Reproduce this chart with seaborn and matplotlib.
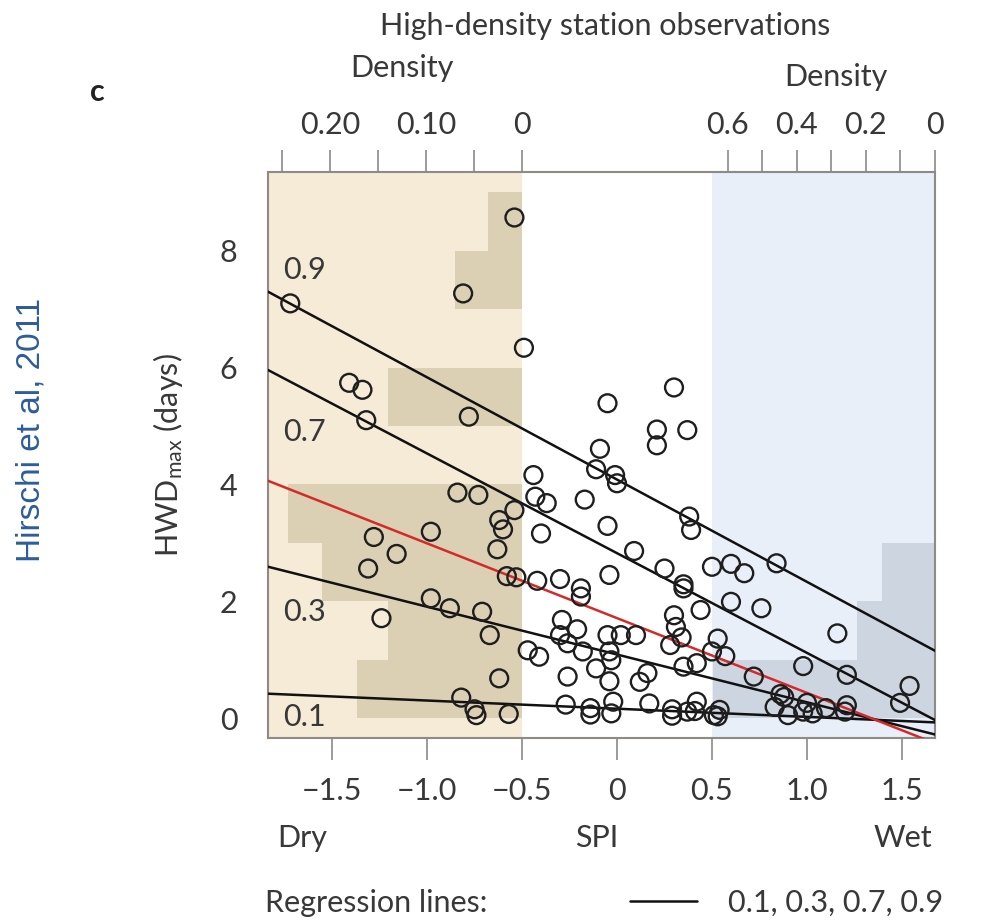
import numpy as np
import matplotlib
matplotlib.use("Agg")
import matplotlib.pyplot as plt
import seaborn as sns

# station observations (SPI, HWDmax in days)
spi = [-0.54, -0.81, -0.49, -1.72, -1.41, -1.34, -1.32, -0.78, -0.84, -0.73,
       -0.54, -0.62, -0.60, -0.98, -1.28, -1.16, -0.63, -1.31, -0.58, -0.53,
       -0.98, -0.88, -0.71, -1.24, -0.67, -0.62, -0.82, -0.75, -0.74, -0.57,
       0.30, -0.05, 0.21, 0.37, 0.21, -0.09, -0.11, -0.01, 0.00, -0.44,
       -0.43, -0.37, -0.17, 0.38, 0.39, -0.40, -0.05, 0.09, -0.42, -0.30,
       -0.04, -0.19, -0.19, 0.25, 0.35, 0.35, 0.50, 0.44, 0.30, 0.31,
       0.34, 0.28, -0.29, -0.21, -0.30, -0.26, -0.18, -0.05, 0.02, 0.10,
       -0.04, -0.03, -0.47, -0.41, -0.26, -0.11, -0.04, 0.16, 0.12, 0.35,
       0.42, 0.53, 0.50, -0.27, -0.14, -0.14, -0.02, -0.03, 0.17, 0.29,
       0.29, 0.37, 0.42, 0.41, 0.51, 0.60, 0.67, 0.84, 0.60, 0.76,
       1.16, 0.57, 0.98, 1.21, 0.72, 1.54, 1.49, 0.86, 0.88, 0.83,
       1.00, 0.98, 1.03, 0.90, 1.10, 1.21, 1.20, 0.54, 0.53]
hwd = [8.57, 7.27, 6.34, 7.10, 5.74, 5.62, 5.10, 5.16, 3.86, 3.82,
       3.56, 3.39, 3.23, 3.19, 3.10, 2.81, 2.89, 2.56, 2.43, 2.41,
       2.05, 1.88, 1.82, 1.71, 1.42, 0.68, 0.35, 0.15, 0.05, 0.07,
       5.66, 5.39, 4.94, 4.93, 4.67, 4.61, 4.26, 4.16, 4.02, 4.16,
       3.79, 3.68, 3.74, 3.45, 3.22, 3.16, 3.29, 2.86, 2.35, 2.38,
       2.45, 2.22, 2.08, 2.56, 2.29, 2.22, 2.59, 1.85, 1.76, 1.56,
       1.38, 1.25, 1.68, 1.52, 1.42, 1.28, 1.14, 1.42, 1.42, 1.42,
       1.14, 0.99, 1.16, 1.05, 0.71, 0.85, 0.63, 0.77, 0.62, 0.88,
       0.94, 1.36, 1.14, 0.23, 0.17, 0.06, 0.28, 0.08, 0.25, 0.15,
       0.04, 0.11, 0.28, 0.12, 0.05, 2.64, 2.48, 2.65, 1.99, 1.88,
       1.45, 1.06, 0.89, 0.74, 0.71, 0.55, 0.26, 0.41, 0.36, 0.19,
       0.26, 0.11, 0.08, 0.05, 0.17, 0.22, 0.11, 0.14, 0.03]

# quantile regression lines
quantiles = ["0.1", "0.3", "0.5", "0.7", "0.9"]
intercepts = [0.160, 1.088, 1.711, 2.823, 4.083]
slopes = [-0.140, -0.818, -1.280, -1.707, -1.751]
line_colors = ["#111111", "#111111", "#d42a2a", "#111111", "#111111"]
label_y = [0.02, 1.82, None, 4.90, 7.67]

# marginal histograms (HWD bins of 1 day)
bin_edges = np.arange(0, 10)
dry_density = [0.172, 0.139, 0.208, 0.243, 0.0, 0.139, 0.0, 0.070, 0.035]
wet_density = [0.642, 0.226, 0.153, 0.0, 0.0, 0.0, 0.0, 0.0, 0.0]
dry_ticks = [0.0, 0.05, 0.10, 0.15, 0.20, 0.25]
dry_labels = ["0", "", "0.10", "", "0.20", ""]
wet_ticks = [0.0, 0.1, 0.2, 0.3, 0.4, 0.5, 0.6]
wet_labels = ["0", "", "0.2", "", "0.4", "", "0.6"]

x_ticks = [-1.5, -1.0, -0.5, 0, 0.5, 1.0, 1.5]
x_labels = ["\u22121.5", "\u22121.0", "\u22120.5", "0", "0.5", "1.0", "1.5"]
y_ticks = [0, 2, 4, 6, 8]

sns.set_theme(style="white")
plt.rcParams["font.family"] = ["Lato", "DejaVu Sans"]
plt.rcParams["mathtext.fontset"] = "custom"
plt.rcParams["mathtext.rm"] = "Lato"
plt.rcParams["mathtext.it"] = "Lato:italic"

FS = 22
TXT = "#383838"
xmin, xmax = -1.837, 1.674
ymin, ymax = -0.342, 9.35
dry_scale = 5.06   # SPI units per unit density (left histogram)
wet_scale = 1.82   # SPI units per unit density (right histogram)

fig = plt.figure(figsize=(9.84, 9.23), dpi=100)
ax = fig.add_axes([0.2724, 0.2004, 0.6778, 0.6133])
ax.set_xlim(xmin, xmax)
ax.set_ylim(ymin, ymax)

# dry / wet background
ax.axvspan(xmin, -0.5, color="#f5ebd6", lw=0, zorder=0)
ax.axvspan(0.5, xmax, color="#e8eff9", lw=0, zorder=0)

centers = bin_edges[:-1] + 0.5
dry_w = np.array(dry_density) * dry_scale
wet_w = np.array(wet_density) * wet_scale
ax.barh(centers, dry_w, left=-0.5 - dry_w, height=1.0, color="#dbcfb4", lw=0, zorder=1)
ax.barh(centers, wet_w, left=xmax - wet_w, height=1.0, color="#cdd5e0", lw=0, zorder=1)

# regression lines
xs = np.array([xmin, xmax])
for q, b0, b1, c, ly in zip(quantiles, intercepts, slopes, line_colors, label_y):
    sns.lineplot(x=xs, y=b0 + b1 * xs, ax=ax, color=c, lw=1.8, zorder=3)
    if ly is not None:
        ax.text(xmin + 0.08, ly, q, fontsize=FS, color=TXT, va="center", ha="left", zorder=5)
handle = ax.lines[0]

sns.scatterplot(x=spi, y=hwd, ax=ax, s=165, facecolors="none", edgecolor="#1e1e1e",
                linewidth=1.7, zorder=4)

# axes styling
for sp in ax.spines.values():
    sp.set_color("#8e8a84")
    sp.set_linewidth(1.5)
ax.set_xticks(x_ticks)
ax.set_xticklabels(x_labels)
ax.set_yticks(y_ticks)
ax.tick_params(axis="both", direction="out", length=16, width=1.2, color="#8a8a8a",
               labelsize=FS, labelcolor=TXT)
ax.tick_params(axis="x", pad=12)
ax.tick_params(axis="y", pad=6)
ax.set_ylabel("HWD$_{\\mathrm{max}}$ (days)", fontsize=FS, color=TXT)
ax.yaxis.set_label_coords(-0.125, 0.5)
ax.set_xlabel("")

# top density axis
top = ax.twiny()
top.set_xlim(xmin, xmax)
pos = [-0.5 - d * dry_scale for d in dry_ticks] + [xmax - d * wet_scale for d in wet_ticks]
top.set_xticks(pos)
top.set_xticklabels(dry_labels + wet_labels)
top.tick_params(axis="x", direction="out", length=16, width=1.2, color="#8a8a8a",
                labelsize=FS, labelcolor=TXT, pad=8)
for sp in top.spines.values():
    sp.set_visible(False)
top.grid(False)

# figure texts
fig.text(0.615, 0.972, "High-density station observations", fontsize=FS, color=TXT,
         ha="center", va="center")
fig.text(0.4085, 0.926, "Density", fontsize=FS, color=TXT, ha="center", va="center")
fig.text(0.850, 0.917, "Density", fontsize=FS, color=TXT, ha="center", va="center")
fig.text(0.0985, 0.900, "c", fontsize=FS, fontweight="bold", color="#222222",
         ha="center", va="center")
fig.text(0.307, 0.092, "Dry", fontsize=FS, color=TXT, ha="center", va="center")
fig.text(0.606, 0.092, "SPI", fontsize=FS, color=TXT, ha="center", va="center")
fig.text(0.918, 0.092, "Wet", fontsize=FS, color=TXT, ha="center", va="center")
fig.text(0.031, 0.534, "Hirschi et al, 2011", fontsize=24, color="#2e5c9a",
         family=["Liberation Sans", "DejaVu Sans"], rotation=90, ha="center", va="center")
fig.text(0.269, 0.022, "Regression lines:", fontsize=FS, color=TXT, ha="left", va="center")
ax.legend([handle], ["0.1, 0.3, 0.7, 0.9"], loc="center left",
          bbox_to_anchor=(0.640, 0.022), bbox_transform=fig.transFigure,
          frameon=False, fontsize=FS, labelcolor=TXT, handlelength=2.2,
          handletextpad=1.0, borderpad=0, borderaxespad=0)

fig.savefig("out.png", dpi=100)
